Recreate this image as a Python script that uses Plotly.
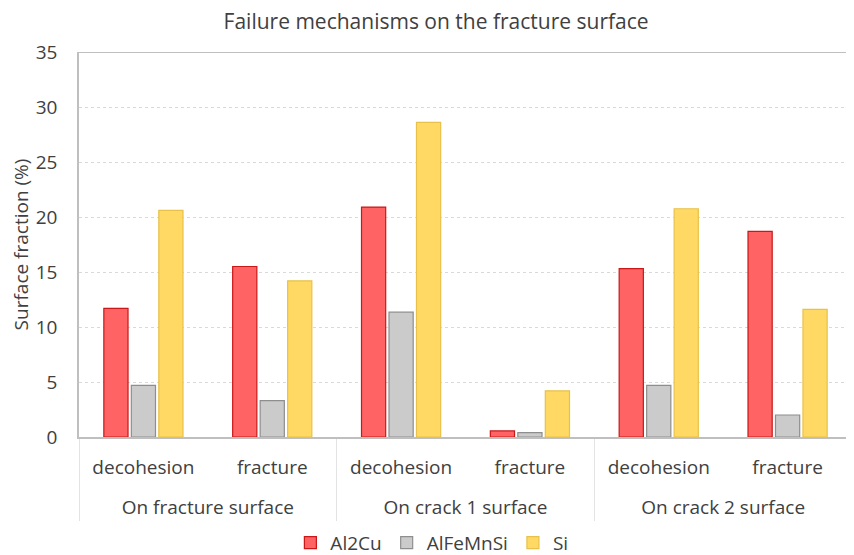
import plotly.graph_objects as go

groups = ["On fracture surface", "On fracture surface",
          "On crack 1 surface", "On crack 1 surface",
          "On crack 2 surface", "On crack 2 surface"]
mechanisms = ["decohesion", "fracture", "decohesion", "fracture", "decohesion", "fracture"]

al2cu = [11.7, 15.5, 20.9, 0.55, 15.3, 18.7]
alfemnsi = [4.7, 3.3, 11.35, 0.4, 4.7, 2.0]
si = [20.6, 14.2, 28.6, 4.2, 20.75, 11.6]

y_ticks = [0, 5, 10, 15, 20, 25, 30, 35]

FONT = "Open Sans"
TXT = "#404040"

# extra blank line under the sub-category labels to space the two label rows
mech_labels = [m + "<br>&nbsp;" for m in mechanisms]

fig = go.Figure()
series = [
    ("Al2Cu", al2cu, "#FF6363", "#C81818"),
    ("AlFeMnSi", alfemnsi, "#CBCBCB", "#8E8E8E"),
    ("Si", si, "#FFD963", "#E8C14A"),
]
for name, vals, fill, line in series:
    fig.add_trace(go.Bar(
        name=name, x=[groups, mech_labels], y=vals,
        marker=dict(color=fill, line=dict(color=line, width=1.2)),
    ))

# page body has an 8px margin, so the figure is 8px smaller than the window
W, H = 846, 547
fig.update_layout(
    width=W, height=H,
    margin=dict(l=71, r=2, t=44, b=118, autoexpand=False),
    paper_bgcolor="white", plot_bgcolor="white",
    barmode="group", bargap=0.36, bargroupgap=0.12,
    title=dict(text="Failure mechanisms on the fracture surface",
               x=0.506, xanchor="center", y=1 - 14 / H, yanchor="middle",
               font=dict(family=FONT, size=21, color=TXT)),
    font=dict(family=FONT, size=19, color=TXT),
    legend=dict(orientation="h", x=0.4565, xanchor="center", y=-0.275, yanchor="middle",
                font=dict(family=FONT, size=19, color=TXT),
                itemwidth=30, traceorder="normal"),
    showlegend=True,
)
fig.update_yaxes(
    range=[0, 35], tickvals=y_ticks, ticktext=[str(v) for v in y_ticks],
    showgrid=True, gridcolor="#D9D9D9", griddash="dot", gridwidth=1,
    showline=True, linecolor="#BFBFBF", linewidth=1.5,
    zeroline=False, ticks="", tickfont=dict(size=19, color=TXT),
    ticklabelstandoff=16, automargin=False,
    title=dict(text="Surface fraction (%)", font=dict(size=19, color=TXT), standoff=8),
)
fig.update_xaxes(
    type="multicategory", showline=True, linecolor="#BFBFBF", linewidth=1.5,
    showdividers=True, dividercolor="#E3E3E3", dividerwidth=1,
    ticks="", tickfont=dict(size=19, color=TXT), automargin=False,
    ticklabelstandoff=12,
)
fig.add_shape(type="line", xref="paper", yref="y", x0=0, x1=1, y0=35, y1=35,
              line=dict(color="#BFBFBF", width=2))

fig.write_html("out.html")
